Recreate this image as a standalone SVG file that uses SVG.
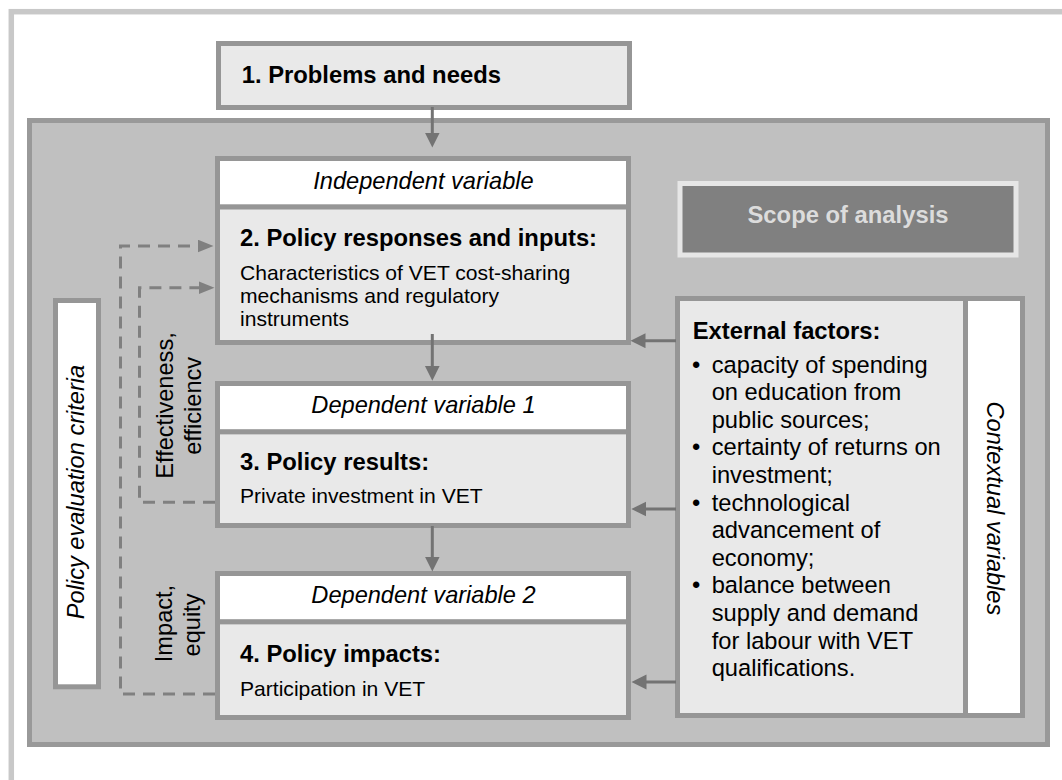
<svg xmlns="http://www.w3.org/2000/svg" width="1062" height="780" viewBox="0 0 1062 780">
<defs>
<style>
text{font-family:"Liberation Sans",Arial,Helvetica,sans-serif;fill:#000;}
.b{font-weight:bold;font-size:23.8px;}
.r{font-size:21.1px;}
.i{font-style:italic;font-size:23.6px;}
.e{font-size:23.7px;}
.box{stroke:#969696;stroke-width:5;}
.lt{fill:#e9e9e9;}
.wh{fill:#ffffff;}
.arr{stroke:#737373;stroke-width:3;fill:none;}
.dash{stroke:#808080;stroke-width:3;fill:none;stroke-dasharray:12 8;}
</style>
<marker id="ah" markerUnits="userSpaceOnUse" markerWidth="16" markerHeight="16" refX="7" refY="7.5" orient="auto">
<path d="M0,0 L15,7.5 L0,15 Z" fill="#737373"/>
</marker>
<marker id="ahd" markerUnits="userSpaceOnUse" markerWidth="18" markerHeight="14" refX="8" refY="6.5" orient="auto">
<path d="M0,0 L16,6.5 L0,13 Z" fill="#808080"/>
</marker>
</defs>
<rect x="0" y="0" width="1062" height="780" fill="#ffffff"/>
<rect id="frame" x="11.3" y="11.7" width="1100" height="820" fill="#ffffff" stroke="#c8c8c8" stroke-width="5.5"/>

<g id="problems">
<rect class="box lt" x="218.5" y="43.5" width="411" height="64"/>
<text class="b" x="241.7" y="83.3">1. Problems and needs</text>
</g>

<g id="scope-frame">
<rect x="29.5" y="120.5" width="1018" height="624" fill="#c0c0c0" stroke="#999999" stroke-width="5"/>
</g>

<g id="scope-label">
<rect x="680" y="183.5" width="336" height="71.5" fill="#808080" stroke="#e6e6e6" stroke-width="5"/>
<text class="b" x="848" y="223.3" text-anchor="middle" style="fill:#dcdcdc">Scope of analysis</text>
</g>

<g id="policy-responses">
<rect class="box lt" x="217.5" y="206.8" width="411" height="135.7"/>
<rect class="box wh" x="217.5" y="158.5" width="411" height="48.3"/>
<text class="i" x="423.5" y="189.3" text-anchor="middle">Independent variable</text>
<text class="b" x="240" y="245.7">2. Policy responses and inputs:</text>
<text class="r" x="240" y="279.8">Characteristics of VET cost-sharing</text>
<text class="r" x="240" y="303">mechanisms and regulatory</text>
<text class="r" x="240" y="326.3">instruments</text>
</g>

<g id="policy-results">
<rect class="box lt" x="217.5" y="431.7" width="411" height="93.8"/>
<rect class="box wh" x="217.5" y="383.5" width="411" height="48.2"/>
<text class="i" x="423.5" y="412.7" text-anchor="middle">Dependent variable 1</text>
<text class="b" x="240" y="470">3. Policy results:</text>
<text class="r" x="240" y="503.3">Private investment in VET</text>
</g>

<g id="policy-impacts">
<rect class="box lt" x="217.5" y="621.7" width="411" height="95.8"/>
<rect class="box wh" x="217.5" y="573.5" width="411" height="48.2"/>
<text class="i" x="423.5" y="602.7" text-anchor="middle">Dependent variable 2</text>
<text class="b" x="240" y="661.7">4. Policy impacts:</text>
<text class="r" x="240" y="695.7">Participation in VET</text>
</g>

<g id="evaluation-criteria">
<rect class="box wh" x="55.5" y="300.5" width="43" height="386.3"/>
<text class="i" transform="translate(84,492) rotate(-90)" text-anchor="middle">Policy evaluation criteria</text>
</g>

<g id="external-factors">
<rect class="box lt" x="677.5" y="298.5" width="288" height="417"/>
<text class="b" x="692.7" y="339">External factors:</text>
<text class="e" x="692" y="372.5">•</text>
<text class="e" x="711.7" y="372.5">capacity of spending</text>
<text class="e" x="711.7" y="400.1">on education from</text>
<text class="e" x="711.7" y="427.7">public sources;</text>
<text class="e" x="692" y="455.3">•</text>
<text class="e" x="711.7" y="455.3">certainty of returns on</text>
<text class="e" x="711.7" y="482.9">investment;</text>
<text class="e" x="692" y="510.5">•</text>
<text class="e" x="711.7" y="510.5">technological</text>
<text class="e" x="711.7" y="538.1">advancement of</text>
<text class="e" x="711.7" y="565.7">economy;</text>
<text class="e" x="692" y="593.3">•</text>
<text class="e" x="711.7" y="593.3">balance between</text>
<text class="e" x="711.7" y="620.9">supply and demand</text>
<text class="e" x="711.7" y="648.5">for labour with VET</text>
<text class="e" x="711.7" y="676.1">qualifications.</text>
</g>

<g id="contextual-variables">
<rect class="box wh" x="965.5" y="298.5" width="57" height="417"/>
<text class="i" transform="translate(987,508.4) rotate(90)" text-anchor="middle">Contextual variables</text>
</g>

<g id="connectors">
<line class="arr" x1="432.3" y1="107" x2="432.3" y2="139.5" marker-end="url(#ah)"/>
<line class="arr" x1="432.3" y1="334" x2="432.3" y2="372.7" marker-end="url(#ah)"/>
<line class="arr" x1="432.3" y1="526" x2="432.3" y2="563.5" marker-end="url(#ah)"/>
<line class="arr" x1="676" y1="340.7" x2="638.5" y2="340.7" marker-end="url(#ah)"/>
<line class="arr" x1="676" y1="509" x2="639.3" y2="509" marker-end="url(#ah)"/>
<line class="arr" x1="676" y1="682" x2="639.5" y2="682" marker-end="url(#ah)"/>
<path class="dash" d="M215,694 H120.5 V246 H205.5" marker-end="url(#ahd)"/>
<path class="dash" d="M215,502.3 H139.5 V287.7 H206.5" marker-end="url(#ahd)"/>
<text class="i" style="font-style:normal" transform="translate(173.3,405.5) rotate(-90)" text-anchor="middle">Effectiveness,</text>
<text class="i" style="font-style:normal" transform="translate(200.5,405.8) rotate(-90)" text-anchor="middle">efficiencv</text>
<text class="i" style="font-style:normal" transform="translate(172,623.5) rotate(-90)" text-anchor="middle">Impact,</text>
<text class="i" style="font-style:normal" transform="translate(199.5,625) rotate(-90)" text-anchor="middle">equity</text>
</g>
</svg>
